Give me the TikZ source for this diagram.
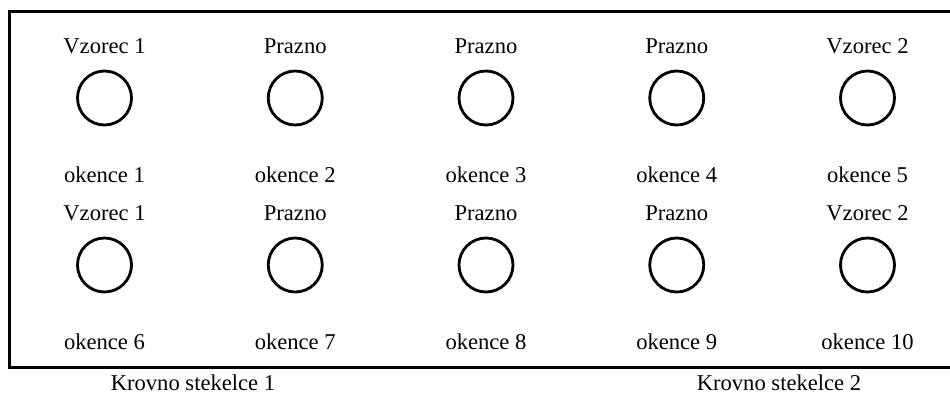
\documentclass[tikz,border=0pt]{standalone}
\usepackage{fontspec}
\setmainfont{Liberation Serif}

\begin{document}
\begin{tikzpicture}[
    x=0.5pt, y=-0.5pt,
    % Estilo para los pocillos (circulos)
    well/.style={
        circle, draw, line width=1.4pt,
        minimum size=27pt, inner sep=0pt
    },
    % Estilo para los textos
    tag/.style={anchor=base, inner sep=0pt, font=\fontsize{11.3}{13.5}\selectfont}
]
    % Parametros generales
    \def\colstep{190.75} % Separacion horizontal entre pocillos

    % Tamano fijo del dibujo
    \useasboundingbox (0,0) rectangle (950,398);

    % Marco abierto por la derecha
    \draw[line width=1.5pt] (950,11) -- (9,11) -- (9,367) -- (950,367);

    % Bucle para las dos filas de pocillos
    % Parametros: {fila / centro vertical}
    \foreach \row/\cy in {0/98, 1/265}{
        \foreach \col/\what in {1/Vzorec 1, 2/Prazno, 3/Prazno, 4/Prazno, 5/Vzorec 2}{
            % Numero del okence y posicion horizontal
            \pgfmathtruncatemacro{\n}{\row*5+\col}
            \pgfmathsetmacro{\cx}{104.5+(\col-1)*\colstep}

            % Pocillo
            \node[well] (well-\n) at (\cx,\cy) {};

            % Contenido encima y numero debajo
            \node[tag] (name-\n) at (\cx,\cy-45) {\what};
            \node[tag] (win-\n) at (\cx,\cy+84) {okence \n};
        }
    }

    % Leyendas de los cubreobjetos
    \node[tag] (cover-1) at (193,390) {Krovno stekelce 1};
    \node[tag] (cover-2) at (779,390) {Krovno stekelce 2};

\end{tikzpicture}
\end{document}
